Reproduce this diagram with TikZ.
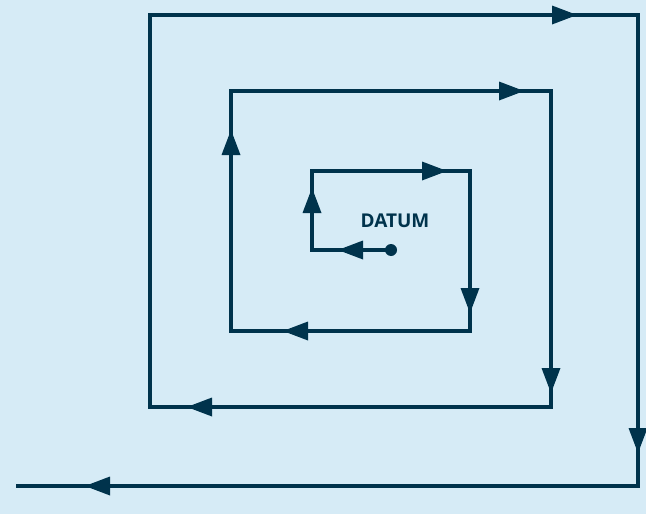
\documentclass[tikz,border=0pt]{standalone}
\usepackage{fontspec}
\setmainfont{Open Sans}
\usetikzlibrary{decorations.markings}
\definecolor{navy}{RGB}{0,51,76}
\definecolor{bg}{RGB}{214,235,246}
\tikzset{
  spiral/.style={draw=navy, line width=3.4pt, line join=miter},
  arr/.style={postaction={decorate, decoration={markings,
      mark=at position #1 with {\fill[navy] (0,0) -- (-25pt,9.5pt) -- (-25pt,-9.5pt) -- cycle;}}}},
  lbl/.style={text=navy, font=\bfseries\fontsize{19}{22}\selectfont, inner sep=0pt}
}
\begin{document}
\begin{tikzpicture}[x=1pt,y=-1pt]
\fill[bg] (0,0) rectangle (646,514);
\useasboundingbox (0,0) rectangle (646,514);
\coordinate (p0) at (391,250);
\coordinate (p1) at (312,250);
\coordinate (p2) at (312,171);
\coordinate (p3) at (470,171);
\coordinate (p4) at (470,331);
\coordinate (p5) at (231,331);
\coordinate (p6) at (231,91);
\coordinate (p7) at (551,91);
\coordinate (p8) at (551,407);
\coordinate (p9) at (150,407);
\coordinate (p10) at (150,15);
\coordinate (p11) at (638,15);
\coordinate (p12) at (638,486);
\coordinate (p13) at (16,486);
\draw[spiral] (p0) -- (p1) -- (p2) -- (p3) -- (p4) -- (p5) -- (p6) -- (p7) -- (p8) -- (p9) -- (p10) -- (p11) -- (p12) -- (p13);
\fill[navy] (p0) circle (6);
\path[arr=53pt] (p0) -- (p1);
\path[arr=62pt] (p1) -- (p2);
\path[arr=135pt] (p2) -- (p3);
\path[arr=142pt] (p3) -- (p4);
\path[arr=187pt] (p4) -- (p5);
\path[arr=201pt] (p5) -- (p6);
\path[arr=293pt] (p6) -- (p7);
\path[arr=302pt] (p7) -- (p8);
\path[arr=364pt] (p8) -- (p9);
\path[arr=427pt] (p10) -- (p11);
\path[arr=438pt] (p11) -- (p12);
\path[arr=553pt] (p12) -- (p13);
\node[lbl] (datum) at (395,221) {DATUM};
\end{tikzpicture}
\end{document}
